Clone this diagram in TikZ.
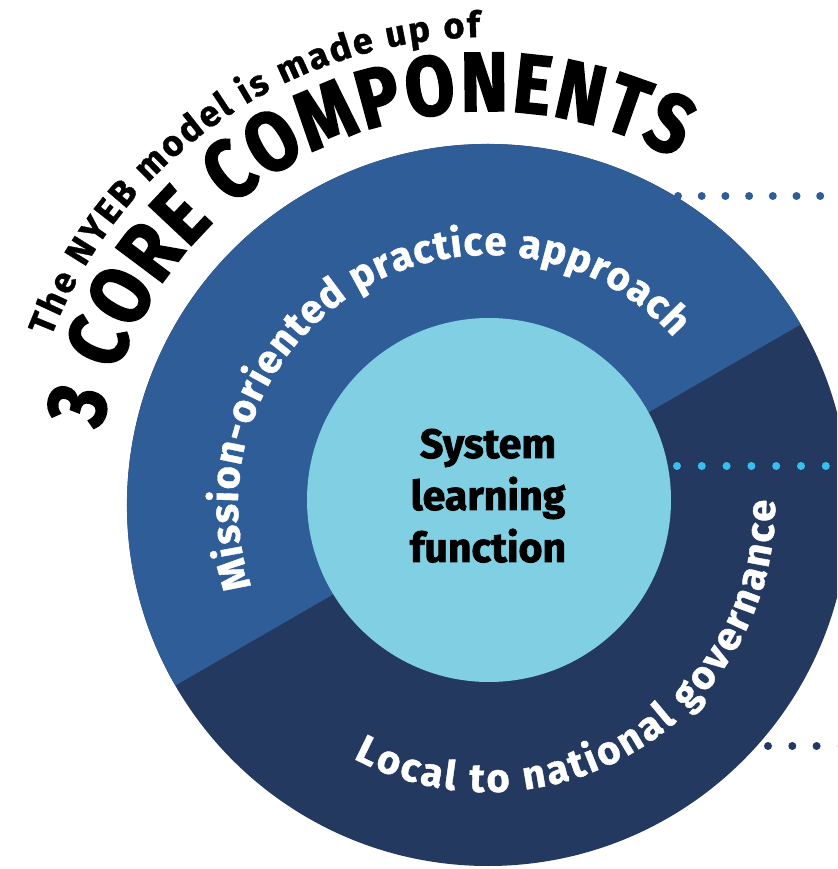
\documentclass[tikz,border=0pt]{standalone}
\usepackage{fontspec}
\setmainfont{Fira Sans}
\newfontfamily\heavyfont{Fira Sans}[FakeBold=2]
\newfontfamily\titlefont{Fira Sans}[FakeStretch=0.85,FakeBold=2]
\newfontfamily\ringfont{Fira Sans}[FakeBold=1]
\usetikzlibrary{decorations.text}
\definecolor{midblue}{RGB}{46,93,152}
\definecolor{navyblue}{RGB}{35,57,95}
\definecolor{paleblue}{RGB}{128,207,226}
\definecolor{dotcyan}{RGB}{58,190,240}
\newcommand\introsize{\ringfont\bfseries\fontsize{36}{36}\selectfont}
\newcommand\titlesize{\titlefont\bfseries\fontsize{84}{84}\selectfont}
\newcommand\ringsize{\ringfont\bfseries\fontsize{40}{40}\selectfont}

\begin{document}
\begin{tikzpicture}[x=1pt,y=1pt,
    dotline/.style={line width=8pt,line cap=round},
    arctext/.style={decorate,decoration={text along path,text align=fit to path,#1}},
    corelabel/.style={font=\heavyfont\bfseries\fontsize{41}{41}\selectfont,anchor=base}]
\useasboundingbox (-488,-364) rectangle (349,505);
\clip (-488,-364) rectangle (349,505);
% rings
\fill[navyblue] (0,0) circle[radius=361];
\fill[midblue] (30:361) arc[start angle=30,end angle=210,radius=361] -- cycle;
\fill[paleblue] (1,5) circle[radius=182];
% dotted leaders
\coordinate (outer top) at (190,309);
\coordinate (edge top) at (365,309);
\coordinate (inner mid) at (189,39);
\coordinate (edge mid) at (365,39);
\coordinate (outer low) at (280,-241);
\coordinate (edge low) at (365,-241);
\draw[dotline,midblue,dash pattern=on 0pt off 23.7pt] (outer top) -- (edge top);
\draw[dotline,dotcyan,dash pattern=on 0pt off 24.8pt] (inner mid) -- (edge mid);
\draw[dotline,navyblue,dash pattern=on 0pt off 24.3pt] (outer low) -- (edge low);
% centre
\node[corelabel] (system) at (0,47) {System};
\node[corelabel] (learning) at (0,-5) {learning};
\node[corelabel] (function) at (0,-57) {function};
% curved labels
\path[arctext={text color=black,text={|\introsize|The NYEB model is made up of}}]
    (159:468) arc[start angle=159,end angle=91,radius=468];
\path[arctext={text color=black,text={|\titlesize|3 CORE COMPONENTS}}]
    (169:394) arc[start angle=169,end angle=61.5,radius=394];
\path[arctext={text color=white,text={|\ringsize|Mission-oriented practice approach}}]
    (199:250) arc[start angle=199,end angle=42,radius=250];
\path[arctext={text color=white,text={|\ringsize|Local to national governance}}]
    (242:287) arc[start angle=242,end angle=361,radius=287];
\end{tikzpicture}
\end{document}
